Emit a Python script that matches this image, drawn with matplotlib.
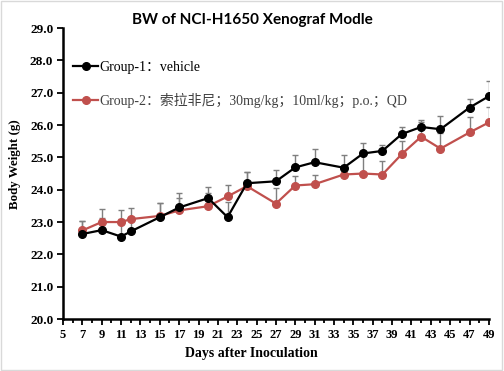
import matplotlib.pyplot as plt
from matplotlib.ticker import MultipleLocator
from matplotlib.patches import Rectangle

days = [7, 9, 11, 12, 15, 17, 20, 22, 24, 27, 29, 31, 34, 36, 38, 40, 42, 44, 47, 49]

g1 = [22.63, 22.75, 22.55, 22.71, 23.15, 23.45, 23.74, 23.15, 24.20, 24.26,
      24.69, 24.85, 24.68, 25.12, 25.20, 25.72, 25.94, 25.87, 26.54, 26.89]
g1_err = [0.40, 0.38, 0.55, 0.45, 0.44, 0.45, 0.35, 0.46, 0.36, 0.34,
          0.38, 0.42, 0.38, 0.32, 0.19, 0.22, 0.23, 0.40, 0.27, 0.46]

g2 = [22.74, 23.00, 23.00, 23.09, 23.19, 23.36, 23.49, 23.79, 24.11, 23.57,
      24.13, 24.17, 24.47, 24.50, 24.47, 25.10, 25.64, 25.27, 25.77, 26.08]
g2_err = [0.30, 0.39, 0.36, 0.35, 0.40, 0.39, 0.40, 0.37, 0.45, 0.47,
          0.30, 0.30, 0.30, 0.60, 0.43, 0.42, 0.45, 0.49, 0.48, 0.48]

xticks = list(range(5, 50, 2))
yticks = [20 + i for i in range(10)]

label1 = "Group-1：vehicle"
label2 = "Group-2：索拉非尼；30mg/kg；10ml/kg；p.o.；QD"

serif = ['Liberation Serif', 'Noto Sans CJK SC']

fig = plt.figure(figsize=(5.04, 3.71), dpi=100)
ax = fig.add_axes([0.125, 0.140, 0.845, 0.7845])

zeros = [0] * len(days)
ax.errorbar(days, g1, yerr=[zeros, g1_err], fmt='none', ecolor='#7f7f7f',
            elinewidth=1, capsize=2.5, capthick=1, zorder=2)
ax.errorbar(days, g2, yerr=[zeros, g2_err], fmt='none', ecolor='#7f7f7f',
            elinewidth=1, capsize=2.5, capthick=1, zorder=2)
ax.plot(days, g1, color='black', lw=1.6, marker='o', ms=5.5, label=label1, zorder=4)
ax.plot(days, g2, color='#c0504d', lw=1.6, marker='o', ms=5.5, label=label2, zorder=3)

ax.set_xlim(5, 49)
ax.set_ylim(20, 29)
ax.set_xticks(xticks, labels=[str(v) for v in xticks], family='Liberation Serif',
              fontweight='bold', fontsize=9)
ax.xaxis.set_minor_locator(MultipleLocator(1))
ax.set_yticks(yticks, labels=['%.1f' % v for v in yticks], family='Liberation Serif',
              fontweight='bold', fontsize=9.5)

for s in ['top', 'right']:
    ax.spines[s].set_visible(False)
for s in ['left', 'bottom']:
    ax.spines[s].set_linewidth(1.8)

ax.tick_params(which='both', direction='out', width=1.3, color='black')
ax.tick_params(which='major', length=4, pad=3)
ax.tick_params(which='minor', length=3)

fig.text(0.498, 0.048, 'Days after Inoculation', family='Liberation Serif',
         fontweight='bold', fontsize=10, ha='center', va='center')
fig.text(0.03, 0.558, 'Body Weight (g)', family='Liberation Serif',
         fontweight='bold', fontsize=9.3, ha='center', va='center', rotation=90)

leg = ax.legend(loc='upper left', bbox_to_anchor=(-0.005, 0.93), frameon=False,
                handlelength=1.75, handletextpad=0.15, labelspacing=1.35,
                prop={'family': serif, 'size': 10})
leg.get_texts()[1].set_color('#404040')

fig.text(0.5, 0.946, 'BW of NCI-H1650 Xenograf Modle', ha='center', va='center',
         fontsize=11, fontweight='bold', family='Lato')

fig.patches.append(Rectangle((0.002, 0.003), 0.994, 0.994, transform=fig.transFigure,
                             fill=False, edgecolor='#d9d9d9', lw=1))

fig.savefig('out.png', dpi=100)
